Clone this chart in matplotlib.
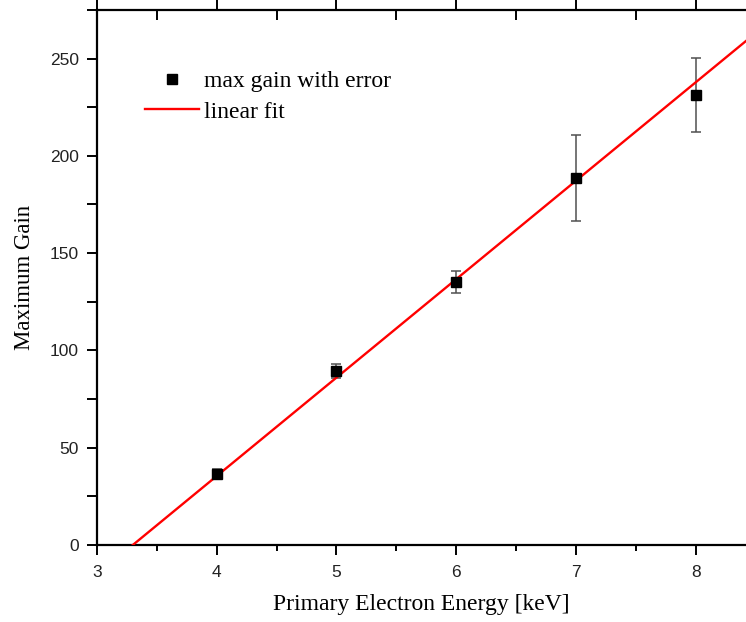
import numpy as np
import matplotlib.pyplot as plt
from matplotlib.ticker import MultipleLocator

# measured maximum gain vs primary electron energy
energy = [4, 5, 6, 7, 8]
gain = [36.5, 89.5, 135.0, 188.5, 231.5]
gain_err = [2.5, 3.5, 5.6, 22.0, 19.0]

# linear fit parameters
fit_slope = 50.6
fit_intercept = -167.0

fig = plt.figure(figsize=(7.46, 6.22), dpi=100)
ax = fig.add_axes([0.130, 0.124, 0.870, 0.860])

xfit = np.linspace(3, 9, 200)
ax.errorbar(energy, gain, yerr=gain_err, fmt='none', ecolor='#505050',
            elinewidth=1.1, capsize=3.6, capthick=1.1, zorder=2)
ax.plot(xfit, fit_slope * xfit + fit_intercept, color='red', lw=1.7,
        label='linear fit', zorder=3)
ax.plot(energy, gain, 's', color='black', ms=7, label='max gain with error',
        zorder=4)

ax.set_xlim(3, 8.42)
ax.set_ylim(0, 275)
ax.xaxis.set_major_locator(MultipleLocator(1))
ax.xaxis.set_minor_locator(MultipleLocator(0.5))
ax.yaxis.set_major_locator(MultipleLocator(50))
ax.yaxis.set_minor_locator(MultipleLocator(25))

ax.spines['right'].set_visible(False)
for s in ['left', 'bottom', 'top']:
    ax.spines[s].set_linewidth(1.6)

ax.tick_params(axis='both', which='major', direction='out', length=7.5, width=1.4,
               labelsize=12.5, labelcolor='#222222')
ax.tick_params(axis='x', which='minor', direction='out', length=4.5, width=1.4)
ax.tick_params(axis='y', which='minor', direction='out', length=7.5, width=1.4)
ax.tick_params(axis='x', which='both', top=True)
ax.tick_params(axis='y', which='both', right=False)
for t in ax.xaxis.get_ticklines(minor=False)[1::2] + ax.xaxis.get_ticklines(minor=True)[1::2]:
    t.set_marker(3)  # top ticks point down into the axes
    t.set_markersize(7.5)

for lab in ax.get_xticklabels() + ax.get_yticklabels():
    lab.set_family('Liberation Sans')
ax.xaxis.set_tick_params(pad=7)
ax.yaxis.set_tick_params(pad=5.5)

ax.set_xlabel('Primary Electron Energy [keV]', family='Liberation Serif',
              fontsize=17, labelpad=10)
ax.set_ylabel('Maximum Gain', family='Liberation Serif', fontsize=16.5,
              labelpad=11)

handles, labels = ax.get_legend_handles_labels()
leg = ax.legend(handles[::-1], labels[::-1], loc='upper left',
                bbox_to_anchor=(0.074, 0.886), frameon=False, borderpad=0,
                borderaxespad=0,
                prop={'family': 'Liberation Serif', 'size': 17},
                handlelength=2.3, handletextpad=0.2, labelspacing=0.37)

fig.savefig('out.png', dpi=100)
